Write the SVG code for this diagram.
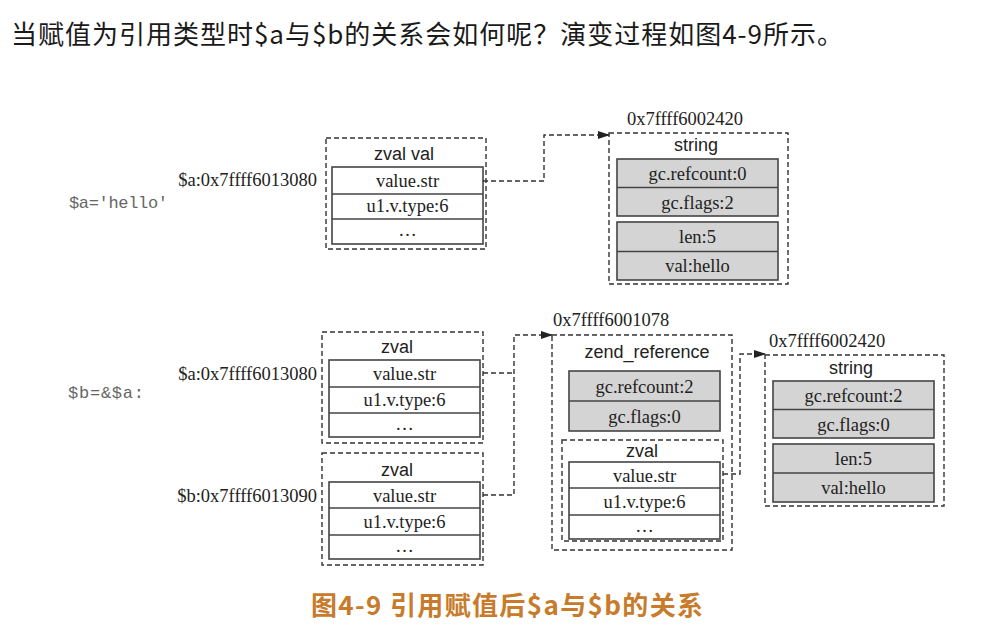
<svg xmlns="http://www.w3.org/2000/svg" width="989" height="639" viewBox="0 0 989 639">
<defs>
<marker id="arr" markerWidth="12" markerHeight="8" refX="11" refY="4" orient="auto" markerUnits="userSpaceOnUse">
<path d="M0,0 L12,4 L0,8 Z" fill="#222"/>
</marker>
</defs>
<style>
.dash{fill:none;stroke:#333;stroke-width:1.4;stroke-dasharray:5 3}
.cell{fill:#fff;stroke:#444;stroke-width:1.6}
.gray{fill:#d4d4d4;stroke:#444;stroke-width:1.6}
.div{stroke:#444;stroke-width:1.6}
.serif{font-family:"Liberation Serif","Times New Roman",serif;font-size:18.5px;fill:#222}
.sans{font-family:"Liberation Sans",Arial,sans-serif;font-size:18px;fill:#222}
.mono{font-family:"Liberation Mono","Courier New",monospace;font-size:17px;fill:#666}
.c{text-anchor:middle}
.e{text-anchor:end}
.conn{fill:none;stroke:#333;stroke-width:1.4;stroke-dasharray:5 3}
</style>
<rect width="989" height="639" fill="#fff"/>
<text x="11" y="44" font-family="'Noto Sans CJK SC','Noto Sans',sans-serif" font-size="26" fill="#1a1a1a" textLength="832" lengthAdjust="spacing">当赋值为引用类型时$a与$b的关系会如何呢？演变过程如图4-9所示。</text>

<text class="mono" x="69" y="208" textLength="99" lengthAdjust="spacing">$a='hello'</text>
<text class="mono" x="68" y="398" textLength="76" lengthAdjust="spacing">$b=&amp;$a:</text>

<g id="zval_a1">
<rect class="dash" x="326" y="138" width="160" height="111"/>
<text class="sans c" x="404" y="160">zval val</text>
<rect class="cell" x="332" y="167" width="151" height="77"/>
<line class="div" x1="332" y1="194" x2="483" y2="194"/>
<line class="div" x1="332" y1="219" x2="483" y2="219"/>
<text class="serif c" x="407.5" y="187">value.str</text>
<text class="serif c" x="407.5" y="212">u1.v.type:6</text>
<text class="serif c" x="407.5" y="236">…</text>
<text class="serif e" x="317" y="186">$a:0x7ffff6013080</text>
</g>

<g id="string1">
<text class="serif c" x="685" y="125">0x7ffff6002420</text>
<rect class="dash" x="609" y="133" width="179" height="151"/>
<text class="sans c" x="696" y="151">string</text>
<rect class="gray" x="617" y="159" width="161" height="57"/>
<line class="div" x1="617" y1="187.5" x2="778" y2="187.5"/>
<rect class="gray" x="617" y="222" width="161" height="58"/>
<line class="div" x1="617" y1="251.5" x2="778" y2="251.5"/>
<text class="serif c" x="697.5" y="180">gc.refcount:0</text>
<text class="serif c" x="697.5" y="209">gc.flags:2</text>
<text class="serif c" x="697.5" y="243">len:5</text>
<text class="serif c" x="697.5" y="272">val:hello</text>
</g>

<g id="zval_a2">
<rect class="dash" x="322" y="332" width="161" height="111"/>
<text class="sans c" x="397" y="353">zval</text>
<rect class="cell" x="329" y="360" width="151" height="77"/>
<line class="div" x1="329" y1="387" x2="480" y2="387"/>
<line class="div" x1="329" y1="413" x2="480" y2="413"/>
<text class="serif c" x="404.5" y="380">value.str</text>
<text class="serif c" x="404.5" y="406">u1.v.type:6</text>
<text class="serif c" x="404.5" y="430">…</text>
<text class="serif e" x="317" y="380">$a:0x7ffff6013080</text>
</g>

<g id="zval_b">
<rect class="dash" x="322" y="453" width="161" height="112"/>
<text class="sans c" x="397" y="476">zval</text>
<rect class="cell" x="329" y="482" width="151" height="77"/>
<line class="div" x1="329" y1="508" x2="480" y2="508"/>
<line class="div" x1="329" y1="535" x2="480" y2="535"/>
<text class="serif c" x="404.5" y="502">value.str</text>
<text class="serif c" x="404.5" y="528">u1.v.type:6</text>
<text class="serif c" x="404.5" y="552">…</text>
<text class="serif e" x="317" y="502">$b:0x7ffff6013090</text>
</g>

<g id="zend_reference">
<text class="serif" x="553" y="326">0x7ffff6001078</text>
<rect class="dash" x="552" y="335" width="180" height="215"/>
<text class="sans c" x="647" y="358">zend_reference</text>
<rect class="gray" x="569" y="371" width="151" height="60"/>
<line class="div" x1="569" y1="401" x2="720" y2="401"/>
<text class="serif c" x="644.5" y="393">gc.refcount:2</text>
<text class="serif c" x="644.5" y="423">gc.flags:0</text>
<rect class="dash" x="562" y="440" width="161" height="101"/>
<text class="sans c" x="642" y="457">zval</text>
<rect class="cell" x="569" y="462" width="151" height="77"/>
<line class="div" x1="569" y1="488" x2="720" y2="488"/>
<line class="div" x1="569" y1="515" x2="720" y2="515"/>
<text class="serif c" x="644.5" y="482">value.str</text>
<text class="serif c" x="644.5" y="508">u1.v.type:6</text>
<text class="serif c" x="644.5" y="532">…</text>
</g>

<g id="string2">
<text class="serif" x="769" y="347">0x7ffff6002420</text>
<rect class="dash" x="765" y="355" width="179" height="151"/>
<text class="sans c" x="851" y="374">string</text>
<rect class="gray" x="773" y="381" width="161" height="57"/>
<line class="div" x1="773" y1="409.5" x2="934" y2="409.5"/>
<rect class="gray" x="773" y="444" width="161" height="58"/>
<line class="div" x1="773" y1="473" x2="934" y2="473"/>
<text class="serif c" x="853.5" y="402">gc.refcount:2</text>
<text class="serif c" x="853.5" y="431">gc.flags:0</text>
<text class="serif c" x="853.5" y="465">len:5</text>
<text class="serif c" x="853.5" y="494">val:hello</text>
</g>

<g id="connectors">
<path class="conn" d="M483,181 H544 V135 H609" marker-end="url(#arr)"/>
<path class="conn" d="M483,373 H514"/>
<path class="conn" d="M483,495 H514 V335 H552" marker-end="url(#arr)"/>
<path class="conn" d="M723,474 H740 V354 H765" marker-end="url(#arr)"/>
</g>

<text x="311" y="615" font-family="'Noto Sans CJK SC','Noto Sans',sans-serif" font-size="26" font-weight="bold" fill="#c77b2b" textLength="392" lengthAdjust="spacing">图4-9 引用赋值后$a与$b的关系</text>
</svg>
